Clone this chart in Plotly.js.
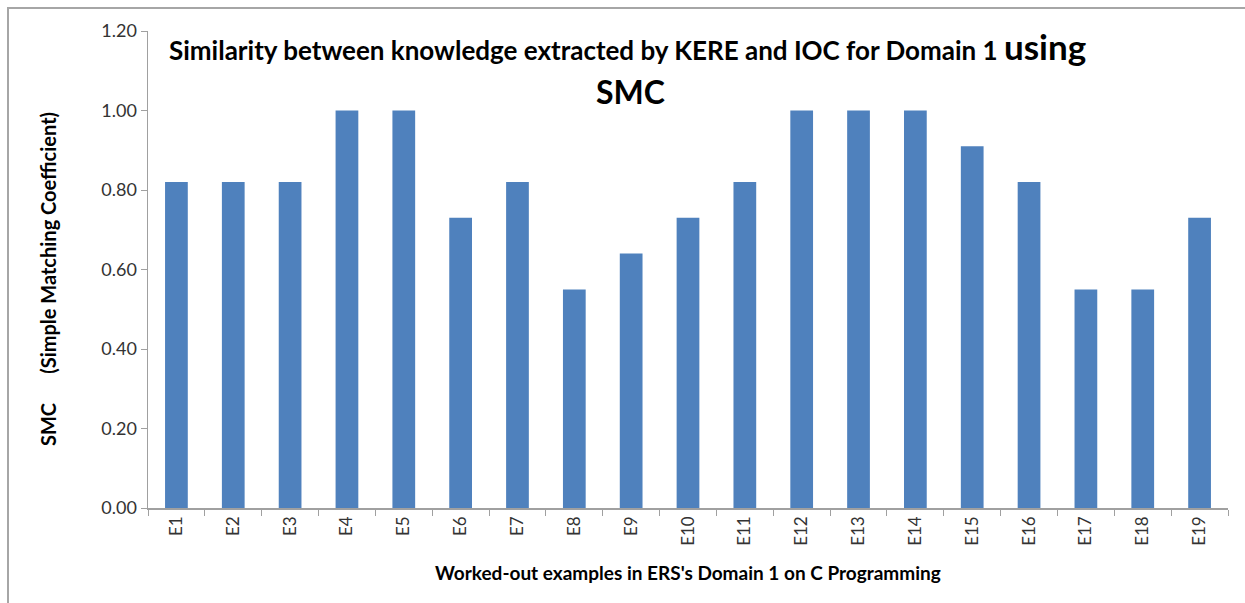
<!DOCTYPE html>
<html><head><meta charset="utf-8">
<script src="https://cdn.plot.ly/plotly-3.0.1.min.js"></script>
<style>
html,body{margin:0;padding:0;background:#fff;}
#chart{width:1245px;height:603px;}
#frame{position:absolute;left:7px;top:7px;width:1300px;height:700px;border-top:2px solid #a6a6a6;border-left:2px solid #a6a6a6;pointer-events:none;}
</style></head>
<body>
<div id="chart"></div>
<div id="frame"></div>
<script>
var categories = ["E1","E2","E3","E4","E5","E6","E7","E8","E9","E10","E11","E12","E13","E14","E15","E16","E17","E18","E19"];
var smcValues = [0.82,0.82,0.82,1.00,1.00,0.73,0.82,0.55,0.64,0.73,0.82,1.00,1.00,1.00,0.91,0.82,0.55,0.55,0.73];
var yTickVals = [0,0.2,0.4,0.6,0.8,1.0,1.2];

var font = "Lato, 'Open Sans', sans-serif";
var trace = {
  type: 'bar', x: categories, y: smcValues,
  marker: {color: '#4F81BD'}, hoverinfo: 'none'
};
var layout = {
  width: 1245, height: 603,
  margin: {l:148, r:17, t:31, b:95},
  paper_bgcolor: '#fff', plot_bgcolor: '#fff',
  bargap: 0.6, showlegend: false,
  font: {family: font, color: '#333'},
  xaxis: {
    type: 'category', tickangle: -90, ticks: 'outside', tickson: 'boundaries',
    ticklen: 6, tickcolor: '#a0a0a0', showline: true, linecolor: '#a0a0a0', linewidth: 1.5,
    showgrid: false, tickfont: {size: 17, color: '#333', family: font}, zeroline: false
  },
  yaxis: {
    range: [0,1.2], tickvals: yTickVals, tickformat: '.2f', ticks: 'outside', ticklen: 6,
    tickcolor: '#a0a0a0', showline: true, linecolor: '#a0a0a0', linewidth: 1.5,
    showgrid: false, zeroline: false, tickfont: {size: 18, color: '#333', family: font}
  },
  annotations: [
    {xref:'paper', yref:'paper', x:0.444, y:0.968, xanchor:'center', yanchor:'middle', showarrow:false,
     text:'<b>Similarity between knowledge extracted by KERE and IOC for Domain 1 <span style="font-size:35px">using</span></b>',
     font:{size:26, color:'#000', family:font}},
    {xref:'paper', yref:'paper', x:0.447, y:0.874, xanchor:'center', yanchor:'middle', showarrow:false,
     text:'<b>SMC</b>', font:{size:32, color:'#000', family:font}},
    {xref:'paper', yref:'paper', x:-0.0926, y:0.48, xanchor:'center', yanchor:'middle', showarrow:false,
     textangle:-90, text:'<b>SMC\u00a0\u00a0\u00a0\u00a0\u00a0\u00a0(Simple Matching Coefficient)</b>',
     font:{size:20, color:'#000', family:font}},
    {xref:'paper', yref:'paper', x:0.5, y:-0.136, xanchor:'center', yanchor:'middle', showarrow:false,
     text:"<b>Worked-out examples in ERS's Domain 1 on C Programming</b>",
     font:{size:19, color:'#000', family:font}}
  ]
};
Plotly.newPlot('chart', [trace], layout, {staticPlot: true, displayModeBar: false});
</script>
</body></html>
